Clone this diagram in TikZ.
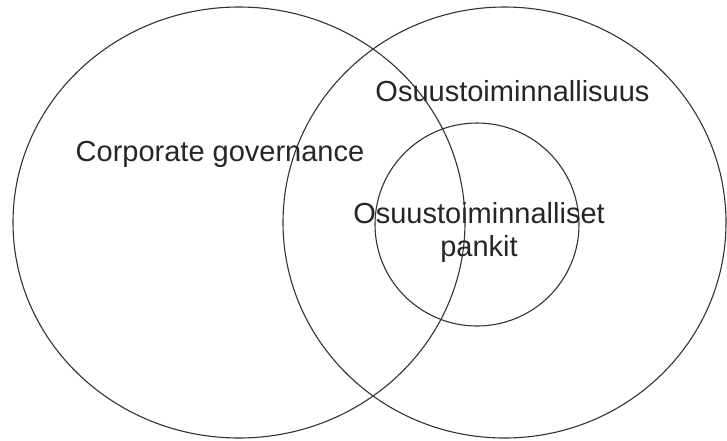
\documentclass[tikz,border=0pt]{standalone}
\usepackage{fontspec}
\setmainfont{Liberation Sans}
\begin{document}
\begin{tikzpicture}[x=1pt,y=-1pt,
  ring/.style={draw=black!80, line width=1.1pt},
  lbl/.style={font=\fontsize{29}{33}\selectfont, text=black!85, inner sep=0pt, align=center}]
\useasboundingbox (0,0) rectangle (727,440);
\fill[white] (0,0) rectangle (727,440);
\draw[ring] (239,222.5) ellipse [x radius=226, y radius=215.5];
\draw[ring] (504.5,222.5) ellipse [x radius=221.5, y radius=215.5];
\draw[ring] (477,224.5) ellipse [x radius=102, y radius=101.5];
\node[lbl, anchor=base] (cg) at (220,161) {Corporate governance};
\node[lbl, anchor=base] (os) at (512.5,101) {Osuustoiminnallisuus};
\node[lbl, anchor=base] (ob) at (479,223) {Osuustoiminnalliset};
\node[lbl, anchor=base] (pk) at (479,256) {pankit};
\end{tikzpicture}
\end{document}
